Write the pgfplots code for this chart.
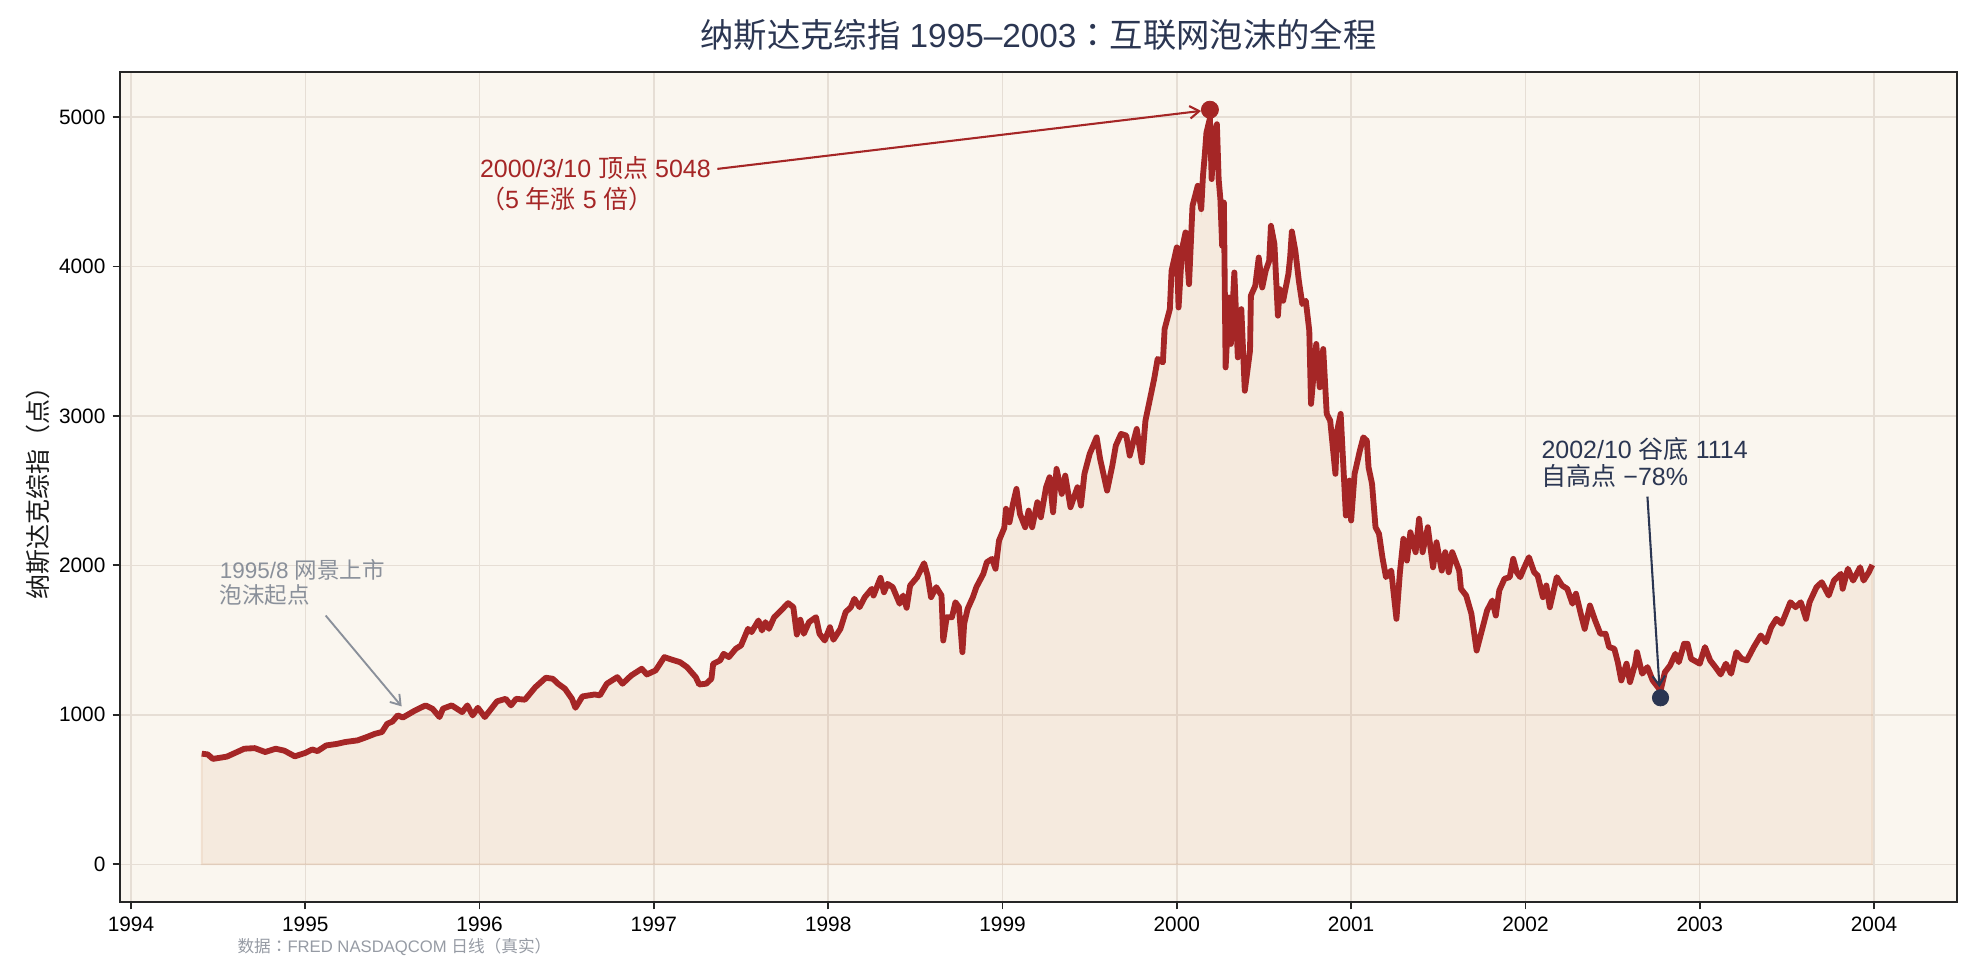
\documentclass[border=0pt]{standalone}
\usepackage{fontspec}
\setmainfont{Liberation Sans}
\newfontfamily\cjk{Noto Sans CJK SC}
\newfontfamily\cjkp{Noto Sans CJK TC}
\usepackage{pgfplots}
\pgfplotsset{compat=1.18}
\usepackage{pgfplotstable}
\usetikzlibrary{arrows.meta}
\definecolor{linec}{HTML}{A52626}
\definecolor{navyc}{HTML}{2B3652}
\definecolor{grayc}{HTML}{8A909A}
\definecolor{bgc}{HTML}{FAF6EF}
\definecolor{gridc}{HTML}{E6DED5}
\definecolor{fillc}{HTML}{C8783C}
\pgfplotstableread{
x y
1994.406 740
1994.44 735
1994.47 705
1994.55 720
1994.65 773
1994.71 777
1994.77 751
1994.83 773
1994.88 760
1994.94 722
1995.00 745
1995.04 768
1995.07 757
1995.12 795
1995.18 805
1995.23 818
1995.30 829
1995.35 850
1995.40 873
1995.44 885
1995.47 940
1995.50 955
1995.53 996
1995.56 982
1995.63 1029
1995.69 1063
1995.73 1040
1995.77 985
1995.79 1041
1995.84 1063
1995.90 1018
1995.93 1063
1995.96 996
1995.99 1047
1996.03 985
1996.10 1090
1996.15 1107
1996.18 1063
1996.21 1107
1996.26 1101
1996.32 1185
1996.38 1248
1996.42 1241
1996.45 1208
1996.49 1174
1996.53 1107
1996.55 1047
1996.59 1123
1996.66 1136
1996.69 1130
1996.73 1208
1996.79 1252
1996.82 1208
1996.87 1263
1996.93 1308
1996.96 1270
1997.01 1297
1997.06 1386
1997.10 1370
1997.15 1352
1997.19 1319
1997.24 1252
1997.26 1203
1997.30 1208
1997.33 1241
1997.34 1341
1997.38 1364
1997.40 1408
1997.43 1386
1997.47 1442
1997.50 1464
1997.54 1575
1997.56 1553
1997.60 1631
1997.62 1564
1997.64 1620
1997.66 1575
1997.69 1653
1997.72 1687
1997.77 1747
1997.80 1720
1997.82 1537
1997.84 1636
1997.86 1542
1997.89 1620
1997.93 1653
1997.95 1542
1997.98 1497
1998.01 1586
1998.03 1502
1998.07 1575
1998.10 1687
1998.13 1720
1998.15 1776
1998.18 1720
1998.21 1787
1998.25 1843
1998.26 1798
1998.30 1916
1998.32 1820
1998.34 1876
1998.37 1854
1998.41 1743
1998.43 1798
1998.45 1716
1998.47 1865
1998.51 1920
1998.55 2014
1998.57 1932
1998.59 1787
1998.62 1854
1998.65 1798
1998.66 1497
1998.68 1653
1998.71 1653
1998.73 1753
1998.75 1720
1998.77 1419
1998.78 1609
1998.80 1709
1998.83 1787
1998.85 1854
1998.89 1943
1998.91 2021
1998.94 2043
1998.96 1977
1998.98 2166
1999.01 2250
1999.02 2378
1999.04 2288
1999.06 2411
1999.08 2511
1999.10 2344
1999.13 2255
1999.15 2366
1999.17 2255
1999.20 2422
1999.22 2322
1999.25 2522
1999.27 2589
1999.29 2355
1999.31 2645
1999.34 2478
1999.36 2600
1999.39 2389
1999.43 2522
1999.45 2400
1999.47 2612
1999.50 2745
1999.54 2856
1999.56 2712
1999.60 2500
1999.63 2667
1999.65 2801
1999.68 2879
1999.71 2868
1999.73 2734
1999.77 2912
1999.80 2689
1999.82 2968
1999.85 3135
1999.87 3247
1999.89 3381
1999.92 3358
1999.93 3581
1999.96 3714
1999.97 3971
2000.00 4127
2000.01 3725
2000.03 4116
2000.05 4227
2000.07 3881
2000.09 4405
2000.12 4539
2000.14 4383
2000.15 4606
2000.16 4739
2000.17 4895
2000.19 4990
2000.20 4584
2000.21 4851
2000.23 4951
2000.24 4584
2000.25 4449
2000.26 4138
2000.27 4427
2000.28 3324
2000.30 3792
2000.31 3481
2000.33 3959
2000.35 3391
2000.37 3714
2000.39 3168
2000.42 3436
2000.425 3804
2000.45 3870
2000.47 4059
2000.49 3859
2000.51 3971
2000.53 4037
2000.54 4271
2000.56 4149
2000.58 3670
2000.59 3848
2000.61 3770
2000.64 3948
2000.65 4059
2000.66 4233
2000.68 4104
2000.70 3904
2000.72 3748
2000.74 3770
2000.76 3570
2000.77 3080
2000.80 3481
2000.82 3191
2000.84 3447
2000.86 3013
2000.88 2968
2000.91 2612
2000.92 2901
2000.94 3013
2000.97 2333
2000.99 2567
2001.00 2300
2001.02 2612
2001.05 2767
2001.07 2856
2001.09 2834
2001.10 2656
2001.12 2545
2001.14 2255
2001.16 2211
2001.18 2050
2001.20 1921
2001.23 1965
2001.26 1642
2001.28 1954
2001.30 2177
2001.32 2032
2001.34 2221
2001.37 2088
2001.39 2311
2001.41 2088
2001.44 2255
2001.47 1987
2001.49 2154
2001.52 1965
2001.54 2088
2001.56 1954
2001.58 2088
2001.62 1965
2001.63 1843
2001.66 1798
2001.69 1676
2001.72 1430
2001.75 1564
2001.78 1698
2001.81 1765
2001.83 1664
2001.85 1832
2001.88 1910
2001.91 1921
2001.93 2043
2001.95 1954
2001.97 1921
2001.99 1977
2002.02 2054
2002.05 1954
2002.07 1932
2002.10 1787
2002.12 1865
2002.14 1720
2002.18 1921
2002.21 1865
2002.24 1843
2002.27 1743
2002.29 1810
2002.32 1664
2002.34 1575
2002.37 1731
2002.40 1631
2002.43 1542
2002.46 1542
2002.48 1453
2002.51 1442
2002.53 1352
2002.55 1230
2002.58 1342
2002.60 1219
2002.63 1342
2002.64 1419
2002.67 1275
2002.70 1319
2002.73 1230
2002.76 1185
2002.775 1160
2002.80 1285
2002.83 1330
2002.86 1408
2002.88 1352
2002.91 1475
2002.93 1475
2002.95 1375
2003.00 1342
2003.03 1453
2003.06 1364
2003.09 1319
2003.12 1270
2003.15 1342
2003.18 1275
2003.21 1419
2003.24 1375
2003.27 1364
2003.31 1453
2003.35 1531
2003.38 1486
2003.41 1586
2003.44 1642
2003.47 1609
2003.52 1753
2003.55 1720
2003.58 1753
2003.61 1642
2003.63 1753
2003.67 1854
2003.70 1887
2003.74 1798
2003.77 1898
2003.81 1943
2003.82 1843
2003.85 1977
2003.88 1898
2003.92 1987
2003.94 1898
2003.97 1954
2003.99 2003
}\nasdaq
\begin{document}
\begin{tikzpicture}
\useasboundingbox (-57.6pt,-27.84pt) rectangle (892.8pt,432.96pt);
\begin{axis}[
  name=ax,
  at={(0,0)}, anchor=south west,
  scale only axis, width=881.76pt, height=398.4pt,
  xmin=1993.937, xmax=2004.476, ymin=-252.4, ymax=5300.4,
  axis background/.style={fill=bgc},
  xtick={1994,1995,1996,1997,1998,1999,2000,2001,2002,2003,2004},
  ytick={0,1000,2000,3000,4000,5000},
  xtick pos=bottom, ytick pos=left,
  /pgf/number format/1000 sep={},
  /pgf/number format/assume math mode=true,
  scaled ticks=false,
  grid=major,
  grid style={color=gridc, line width=0.7pt},
  tick align=outside,
  major tick length=3.5pt,
  tick style={color=black!85, line width=0.8pt},
  axis line style={color=black!85, line width=0.8pt},
  ticklabel style={font=\fontsize{10}{12}\selectfont, text=black},
  clip=false,
]
\addplot[draw=fillc, draw opacity=0.14, line width=0.8pt, fill=fillc, fill opacity=0.09] table {\nasdaq} \closedcycle;
\addplot[linec, line width=2.8pt, line join=round] table {\nasdaq};
\addplot[only marks, mark=*, mark size=4.1pt, color=linec] coordinates {(2000.19,5048)};
\addplot[only marks, mark=*, mark size=3.9pt, color=navyc] coordinates {(2002.775,1114)};
\draw[linec, line width=1pt, -{Straight Barb[length=4.5pt,width=6pt]}] (axis cs:1997.364,4652) -- (axis cs:2000.139,5040);
\draw[navyc, line width=1pt, -{Straight Barb[length=4.5pt,width=6pt]}] (axis cs:2002.700,2460) -- (axis cs:2002.769,1185);
\draw[grayc, line width=0.9pt, -{Straight Barb[length=4.5pt,width=6pt]}] (axis cs:1995.117,1664) -- (axis cs:1995.553,1056);
\node[anchor=west, align=left, text=linec, font=\fontsize{12}{15}\selectfont, inner sep=0pt] at (axis cs:1996.0,4555)
  {2000/3/10 {\cjk 顶点} 5048\\{\cjkp （}5 {\cjk 年涨} 5 {\cjk 倍}{\cjkp ）}};
\node[anchor=west, align=left, text=navyc, font=\fontsize{12}{13}\selectfont, inner sep=0pt] at (axis cs:2002.09,2687)
  {2002/10 {\cjk 谷底} 1114\\{\cjk 自高点} −78\%};
\node[anchor=west, align=left, text=grayc, font=\fontsize{10.8}{12.3}\selectfont, inner sep=0pt] at (axis cs:1994.507,1885)
  {1995/8 {\cjk 网景上市}\\{\cjk 泡沫起点}};
\end{axis}
\node[anchor=center, text=navyc, font=\fontsize{16}{20}\selectfont, inner sep=0pt] at (440.88pt,416.2pt)
  {{\cjk 纳斯达克综指} 1995–2003{\cjkp ：}{\cjk 互联网泡沫的全程}};
\node[anchor=center, rotate=90, text=black!90, font=\fontsize{12}{14}\selectfont, inner sep=0pt] at (-39.4pt,199.2pt)
  {{\cjk 纳斯达克综指}{\cjkp （}{\cjk 点}{\cjkp ）}};
\node[anchor=west, text=grayc!90, font=\fontsize{8}{10}\selectfont, inner sep=0pt] at (56.2pt,-21.6pt)
  {{\cjk 数据}{\cjkp ：}FRED NASDAQCOM {\cjk 日线}{\cjkp （}{\cjk 真实}{\cjkp ）}};
\end{tikzpicture}
\end{document}
